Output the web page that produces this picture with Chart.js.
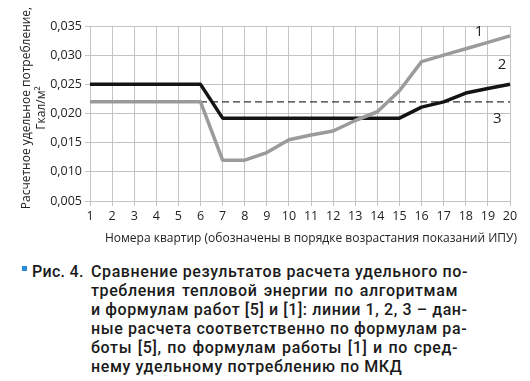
<!DOCTYPE html>
<html>
<head>
<meta charset="utf-8">
<script src="https://cdn.jsdelivr.net/npm/chart.js@4/dist/chart.umd.min.js"></script>
<style>
  html, body { margin: 0; padding: 0; background: #fff; width: 530px; height: 381px; overflow: hidden; }
  #wrap { position: absolute; left: 0; top: 0; width: 530px; height: 250px; }
  #cap { position: absolute; left: 0; top: 262px; width: 530px; font-family: Roboto, "Liberation Sans", sans-serif; font-weight: 500; font-size: 16px; letter-spacing: 0.6px; color: #1a1a1a; }
  #cap .sq { position: absolute; left: 22px; top: 4px; width: 5px; height: 5px; background: #2a8ad4; }
  #cap .lab { position: absolute; left: 32px; top: 0; white-space: nowrap; letter-spacing: 0.3px; }
  #cap .body { position: absolute; left: 91px; top: 0; width: 367px; }
  #cap .ln { height: 19px; line-height: 19px; white-space: nowrap; text-align: justify; text-align-last: justify; }
  #cap .ln.last { text-align-last: left; }
</style>
</head>
<body>
<div id="wrap"><canvas id="c" width="530" height="250"></canvas></div>
<div id="cap">
  <div class="sq"></div>
  <div class="lab" style="line-height:19px">Рис. 4.</div>
  <div class="body">
    <div class="ln">Сравнение результатов расчета удельного по-</div>
    <div class="ln">требления тепловой энергии по алгоритмам</div>
    <div class="ln">и  формулам работ [5] и [1]: линии 1, 2, 3 – дан-</div>
    <div class="ln">ные расчета соответственно по формулам ра-</div>
    <div class="ln">боты [5], по формулам работы [1] и по сред-</div>
    <div class="ln last">нему удельному потреблению по МКД</div>
  </div>
</div>
<script>
const categories = ["1","2","3","4","5","6","7","8","9","10","11","12","13","14","15","16","17","18","19","20"];
const line1 = [0.022,0.022,0.022,0.022,0.022,0.022,0.012,0.012,0.0133,0.0155,0.0163,0.0170,0.0188,0.0203,0.0239,0.0289,0.0300,0.0311,0.0322,0.0333];
const line2 = [0.025,0.025,0.025,0.025,0.025,0.025,0.0192,0.0192,0.0192,0.0192,0.0192,0.0192,0.0192,0.0192,0.0192,0.0211,0.0220,0.0235,0.0243,0.0250];
const line3 = [0.022,0.022,0.022,0.022,0.022,0.022,0.022,0.022,0.022,0.022,0.022,0.022,0.022,0.022,0.022,0.022,0.022,0.022,0.022,0.022];
const lineNames = ["1","2","3"];
const yTitle = ["Расчетное удельное потребление,", "Гкал/м²"];
const xTitle = "Номера квартир (обозначены в порядке возрастания показаний ИПУ)";

const FONT = '"Open Sans", "DejaVu Sans", sans-serif';

const annot = {
  id: 'annot',
  afterDraw(chart) {
    const ctx = chart.ctx;
    const xs = chart.scales.x, ys = chart.scales.y;
    ctx.save();
    ctx.fillStyle = '#222';
    ctx.textAlign = 'center';
    ctx.textBaseline = 'middle';
    ctx.font = '12px ' + FONT;
    ctx.fillText(xTitle, (xs.left + xs.right) / 2 + 11, 239);
    ctx.font = '12px ' + FONT;
    ctx.save();
    ctx.translate(27, 108);
    ctx.rotate(-Math.PI / 2);
    ctx.fillText(yTitle[0], 0, 0);
    ctx.restore();
    ctx.save();
    ctx.translate(42, 108);
    ctx.rotate(-Math.PI / 2);
    ctx.fillText(yTitle[1], 0, 0);
    ctx.restore();
    ctx.font = '15px ' + FONT;
    ctx.fillText(lineNames[0], xs.getPixelForValue(17.6), ys.getPixelForValue(0.0340));
    ctx.fillText(lineNames[1], xs.getPixelForValue(18.64), ys.getPixelForValue(0.0283));
    ctx.fillText(lineNames[2], xs.getPixelForValue(18.42), ys.getPixelForValue(0.0191));
    ctx.restore();
  }
};

new Chart(document.getElementById('c'), {
  type: 'line',
  data: {
    labels: categories,
    datasets: [
      { data: line1, borderColor: '#9b9b9b', borderWidth: 3.5, pointRadius: 0, tension: 0, order: 0, borderJoinStyle: 'round' },
      { data: line2, borderColor: '#141414', borderWidth: 3.5, pointRadius: 0, tension: 0, order: 1, borderJoinStyle: 'round' },
      { data: line3, borderColor: '#333', borderWidth: 1.4, borderDash: [7, 4], pointRadius: 0, tension: 0, order: 2 }
    ]
  },
  options: {
    responsive: false,
    animation: false,
    events: [],
    layout: { padding: { left: 0, right: 20, top: 26, bottom: 0 } },
    plugins: { legend: { display: false }, tooltip: { enabled: false }, title: { display: false } },
    scales: {
      x: {
        offset: false,
        grid: { color: '#c4c4c4', lineWidth: 1, tickLength: 5, drawTicks: true },
        border: { display: false },
        ticks: { color: '#222', font: { family: FONT, size: 12.5 }, padding: 3, maxRotation: 0, autoSkip: false },
        afterFit(s) { s.height = 49; }
      },
      y: {
        min: 0.005, max: 0.035,
        grid: { color: '#c4c4c4', lineWidth: 1, tickLength: 5 },
        border: { display: false },
        ticks: {
          stepSize: 0.005, color: '#222', font: { family: FONT, size: 12.5 }, padding: 3,
          callback: v => v.toFixed(3).replace('.', ',')
        },
        afterFit(s) { s.width = 90; }
      }
    }
  },
  plugins: [annot]
});
</script>
</body>
</html>
